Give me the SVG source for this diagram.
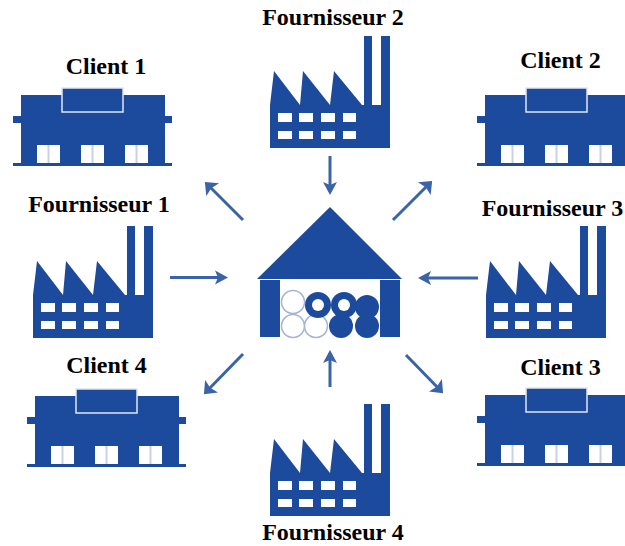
<svg xmlns="http://www.w3.org/2000/svg" width="625" height="546" viewBox="0 0 625 546">
<style>
.t{font-family:"Liberation Serif","Times New Roman",serif;font-weight:bold;font-size:24px;fill:#000;text-anchor:middle}
.a{fill:none;stroke:#3a63a8;stroke-width:3}
.b{fill:#1c4a9c}
.w{fill:#fff}
.d{fill:#c9d2e4}
</style>
<defs>
<marker id="h" markerUnits="userSpaceOnUse" markerWidth="20" markerHeight="20" refX="12" refY="10" orient="auto"><path d="M15 10 2 3 5 10 2 17Z" fill="#3a63a8"/></marker>
<marker id="g" markerUnits="userSpaceOnUse" markerWidth="20" markerHeight="22" refX="12" refY="11" orient="auto"><path d="M15 11 4 2 6 11 4 20Z" fill="#3a63a8"/></marker>
<g id="client">
<path class="b" d="M21 95H165V116H172V123H165V163H172V166H13V163H21V123H13V116H21Z"/>
<rect x="62" y="88" width="61" height="24" fill="#1c4a9c" stroke="#dfe6f2" stroke-width="1.5"/>
<rect class="w" x="37" y="145" width="23" height="18"/><rect class="d" x="47.500" y="145" width="2" height="18"/>
<rect class="w" x="81" y="145" width="23" height="18"/><rect class="d" x="91.500" y="145" width="2" height="18"/>
<rect class="w" x="125" y="145" width="23" height="18"/><rect class="d" x="135.500" y="145" width="2" height="18"/>
</g>
<g id="factory">
<path class="b" d="M270 105 274 71 300 105 303 71 330 105 334 71 362 105H364V36H372V105H381V36H390V148H270Z"/>
<g class="w">
<rect x="278" y="113" width="14" height="9"/><rect x="299" y="113" width="14" height="9"/><rect x="321" y="113" width="14" height="9"/><rect x="343" y="113" width="13" height="9"/>
<rect x="278" y="131" width="14" height="8"/><rect x="299" y="131" width="14" height="8"/><rect x="321" y="131" width="14" height="8"/><rect x="343" y="131" width="13" height="8"/>
</g>
</g>
</defs>
<rect width="625" height="546" fill="#fff"/>
<g id="connectors">
<path class="a" marker-end="url(#g)" d="M243 220 207 184"/>
<path class="a" marker-end="url(#h)" d="M330 156V192"/>
<path class="a" marker-end="url(#g)" d="M393 220 430 183"/>
<path class="a" marker-end="url(#h)" d="M170 277.500H225"/>
<path class="a" marker-end="url(#h)" d="M478 278H421"/>
<path class="a" marker-end="url(#g)" d="M243 354 206 392"/>
<path class="a" marker-end="url(#h)" d="M330 387V353"/>
<path class="a" marker-end="url(#g)" d="M406 355 441 391"/>
</g>
<g id="warehouse">
<path class="b" d="M330 207 402 279H257Z"/>
<rect class="b" x="260" y="280" width="20" height="57"/>
<rect class="b" x="380" y="280" width="20" height="57"/>
<g fill="#fff" stroke="#a5b4d3" stroke-width="1.500">
<circle cx="293" cy="302" r="11.500"/><circle cx="293" cy="326" r="11.500"/><circle cx="316" cy="326" r="11.500"/>
</g>
<g class="b">
<circle cx="367" cy="307" r="12"/><circle cx="367" cy="326" r="12"/><circle cx="341" cy="326" r="12"/>
<circle cx="344" cy="305" r="13"/><circle cx="318" cy="305" r="13"/>
</g>
<circle class="w" cx="318" cy="305" r="6"/><circle class="w" cx="344" cy="305" r="6"/>
</g>
<g id="client1"><use href="#client"/><text class="t" x="106" y="74">Client 1</text></g>
<g id="client2"><use href="#client" x="464"/><text class="t" x="560.500" y="68">Client 2</text></g>
<g id="client3"><use href="#client" x="464" y="300"/><text class="t" x="560.500" y="375">Client 3</text></g>
<g id="client4"><use href="#client" x="14" y="301"/><text class="t" x="106.500" y="373">Client 4</text></g>
<g id="fournisseur1"><use href="#factory" x="-237" y="190"/><text class="t" x="99" y="212">Fournisseur 1</text></g>
<g id="fournisseur2"><use href="#factory"/><text class="t" x="333" y="25">Fournisseur 2</text></g>
<g id="fournisseur3"><use href="#factory" x="216" y="190"/><text class="t" x="552.500" y="216">Fournisseur 3</text></g>
<g id="fournisseur4"><use href="#factory" y="368"/><text class="t" x="333" y="540">Fournisseur 4</text></g>
</svg>
